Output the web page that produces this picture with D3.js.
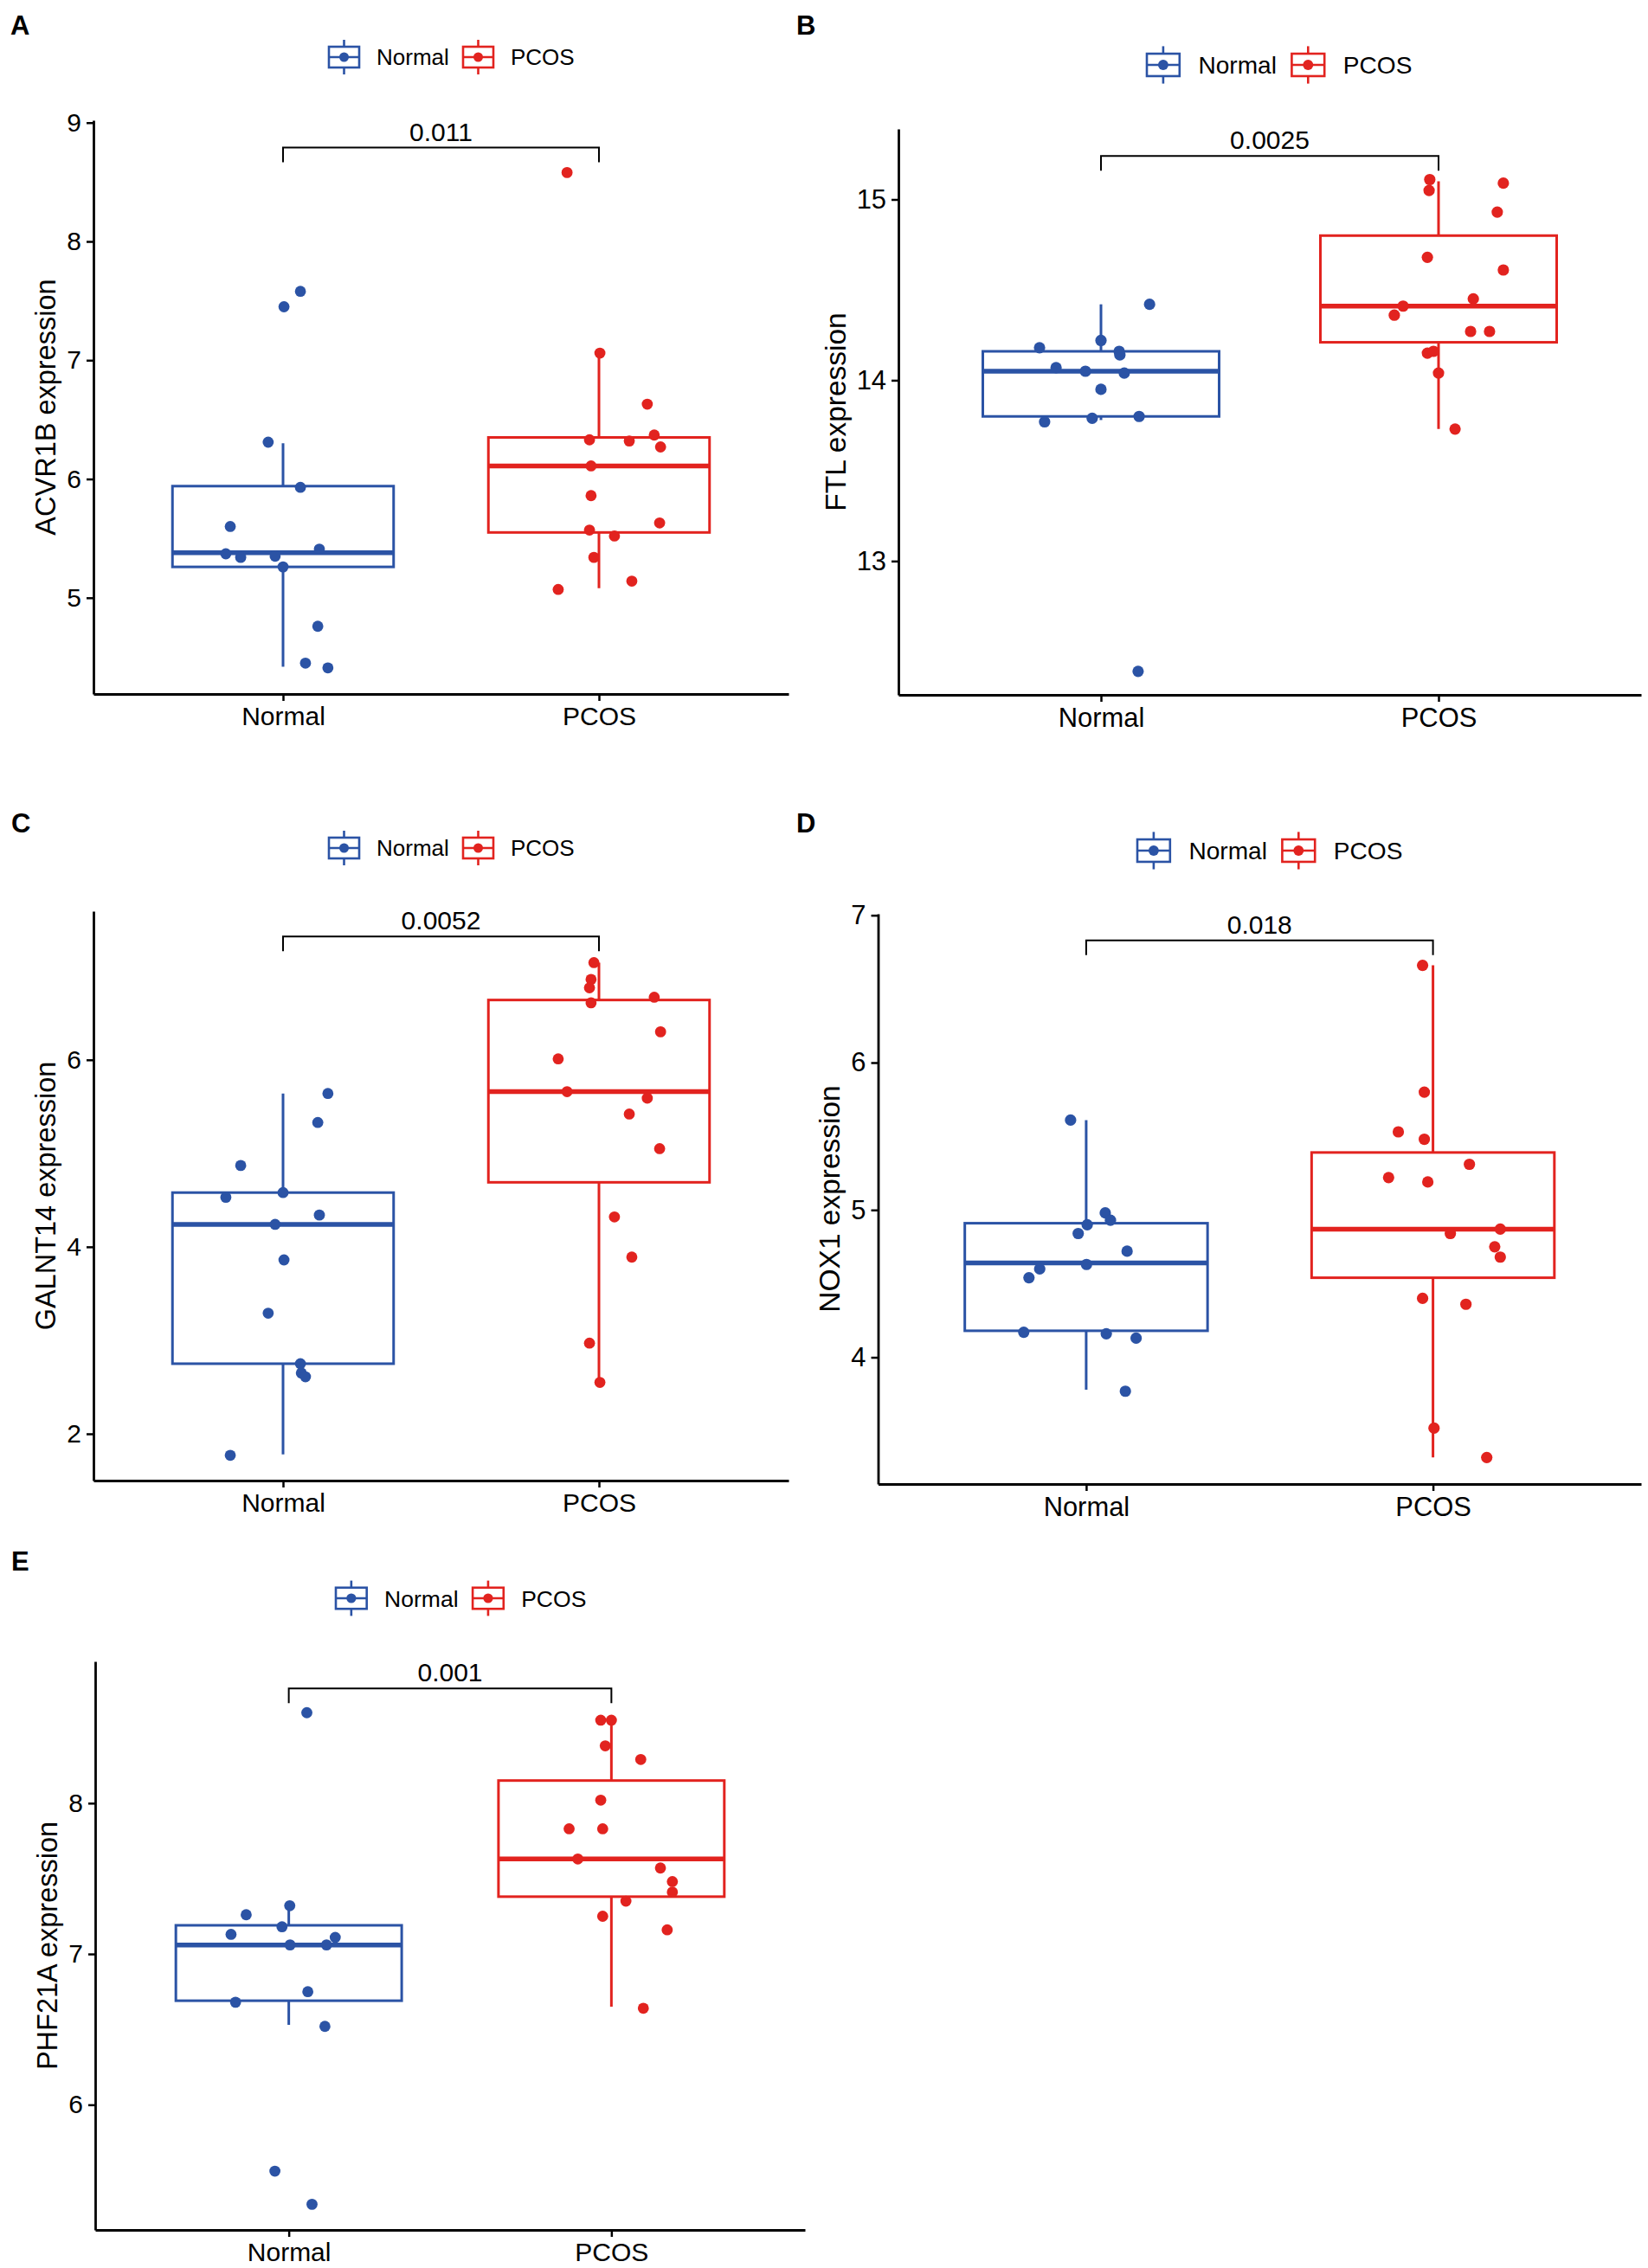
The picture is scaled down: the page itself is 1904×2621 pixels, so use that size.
<!DOCTYPE html>
<html>
<head>
<meta charset="utf-8">
<script src="https://cdn.jsdelivr.net/npm/d3@7"></script>
<style>
  body { margin: 0; background: #fff; }
  svg { display: block; }
  text { font-family: "Liberation Sans", Arial, Helvetica, sans-serif; fill: #000; }
</style>
</head>
<body>
<div id="chart"></div>
<script>
// groups, genes, p-values
var groups = ['Normal', 'PCOS'];
var genes = ['ACVR1B', 'FTL', 'GALNT14', 'NOX1', 'PHF21A'];
var pValues = ['0.011', '0.0025', '0.0052', '0.018', '0.001'];
var yTicks = [[5, 6, 7, 8, 9], [13, 14, 15], [2, 4, 6], [4, 5, 6, 7], [6, 7, 8]];
var bracketLevel = [8.79, 15.24, 7.32, 6.83, 8.76];

// jittered points: [x offset in group units, expression]
var acvr1bNormal = [[0.055, 7.58], [0.003, 7.45], [-0.047, 6.31], [0.055, 5.93], [-0.167, 5.60], [-0.181, 5.37], [-0.134, 5.34], [-0.025, 5.35], [0.115, 5.41], [0.0, 5.26], [0.110, 4.76], [0.071, 4.45], [0.142, 4.41]];
var acvr1bPcos = [[-0.101, 8.58], [0.003, 7.06], [0.153, 6.63], [-0.030, 6.33], [0.096, 6.32], [0.175, 6.37], [0.195, 6.27], [-0.025, 6.11], [-0.025, 5.86], [0.192, 5.63], [-0.030, 5.57], [0.049, 5.52], [-0.016, 5.34], [0.104, 5.14], [-0.129, 5.07]];
var ftlNormal = [[0.144, 14.42], [0.0, 14.22], [-0.182, 14.18], [0.054, 14.16], [0.056, 14.14], [-0.133, 14.07], [-0.046, 14.05], [0.069, 14.04], [0.0, 13.95], [-0.167, 13.77], [-0.026, 13.79], [0.113, 13.80], [0.110, 12.39]];
var ftlPcos = [[-0.026, 15.11], [-0.028, 15.05], [0.192, 15.09], [0.174, 14.93], [-0.033, 14.68], [0.192, 14.61], [0.103, 14.45], [-0.105, 14.41], [-0.131, 14.36], [0.095, 14.27], [0.151, 14.27], [-0.033, 14.15], [-0.015, 14.16], [0.0, 14.04], [0.049, 13.73]];
var galnt14Normal = [[0.142, 5.64], [0.110, 5.33], [-0.134, 4.87], [-0.181, 4.53], [0.0, 4.58], [-0.025, 4.24], [0.115, 4.34], [0.003, 3.86], [-0.047, 3.29], [0.055, 2.75], [0.058, 2.65], [0.071, 2.61], [-0.167, 1.77]];
var galnt14Pcos = [[-0.016, 7.04], [-0.025, 6.86], [-0.030, 6.77], [-0.025, 6.61], [0.175, 6.67], [0.195, 6.30], [-0.129, 6.01], [-0.101, 5.66], [0.153, 5.59], [0.096, 5.42], [0.192, 5.05], [0.049, 4.32], [0.104, 3.89], [-0.030, 2.97], [0.003, 2.55]];
var nox1Normal = [[-0.045, 5.61], [0.055, 4.98], [0.070, 4.93], [0.003, 4.90], [-0.023, 4.84], [0.118, 4.72], [0.001, 4.63], [-0.134, 4.60], [-0.165, 4.54], [-0.180, 4.17], [0.058, 4.16], [0.144, 4.13], [0.113, 3.77]];
var nox1Pcos = [[-0.030, 6.66], [-0.025, 5.80], [-0.100, 5.53], [-0.025, 5.48], [0.105, 5.31], [-0.128, 5.22], [-0.015, 5.19], [0.194, 4.87], [0.050, 4.84], [0.178, 4.75], [0.194, 4.68], [-0.030, 4.40], [0.095, 4.36], [0.003, 3.52], [0.155, 3.32]];
var phf21aNormal = [[0.056, 8.60], [0.003, 7.32], [-0.132, 7.26], [-0.021, 7.18], [-0.179, 7.13], [0.144, 7.11], [0.004, 7.06], [0.117, 7.06], [0.059, 6.75], [-0.165, 6.68], [0.112, 6.52], [-0.043, 5.56], [0.072, 5.34]];
var phf21aPcos = [[-0.033, 8.55], [0.0, 8.55], [-0.019, 8.38], [0.091, 8.29], [-0.033, 8.02], [-0.131, 7.83], [-0.027, 7.83], [-0.104, 7.63], [0.152, 7.57], [0.189, 7.48], [0.189, 7.41], [0.045, 7.35], [-0.027, 7.25], [0.173, 7.16], [0.099, 6.64]];

// box stats: [lower whisker, q1, median, q3, upper whisker] for Normal, PCOS
var acvr1bBoxes = [[4.42, 5.26, 5.38, 5.94, 6.30], [5.08, 5.55, 6.11, 6.35, 7.06]];
var ftlBoxes = [[13.78, 13.80, 14.05, 14.16, 14.42], [13.73, 14.21, 14.41, 14.80, 15.10]];
var galnt14Boxes = [[1.78, 2.75, 4.24, 4.58, 5.64], [2.55, 4.69, 5.66, 6.64, 7.04]];
var nox1Boxes = [[3.78, 4.18, 4.64, 4.91, 5.61], [3.32, 4.54, 4.87, 5.39, 6.66]];
var phf21aBoxes = [[6.53, 6.69, 7.06, 7.19, 7.32], [6.65, 7.38, 7.63, 8.15, 8.55]];

var points = [[acvr1bNormal, acvr1bPcos], [ftlNormal, ftlPcos], [galnt14Normal, galnt14Pcos], [nox1Normal, nox1Pcos], [phf21aNormal, phf21aPcos]];
var boxes = [acvr1bBoxes, ftlBoxes, galnt14Boxes, nox1Boxes, phf21aBoxes];

var colors = ['#2b53a5', '#e2231f'];

// panel layout (pixels); s = text scale, ls = legend scale
var panels = [
  { letter: 'A', lx: 12, ly: 40, left: 108, right: 911, top: 139, bottom: 802, yDomain: [4.19, 9.02], legX: 380, legY: 66, s: 1, ls: 1 },
  { letter: 'B', lx: 920, ly: 40, left: 1038, right: 1896, top: 149, bottom: 803, yDomain: [12.26, 15.39], legX: 1325, legY: 75, s: 1.03, ls: 1.08 },
  { letter: 'C', lx: 13, ly: 962, left: 108, right: 911, top: 1053, bottom: 1711, yDomain: [1.50, 7.59], legX: 380, legY: 980, s: 1, ls: 1 },
  { letter: 'D', lx: 920, ly: 962, left: 1014.5, right: 1896, top: 1056, bottom: 1715, yDomain: [3.14, 7.01], legX: 1314, legY: 983, s: 1.03, ls: 1.08 },
  { letter: 'E', lx: 13, ly: 1815, left: 110, right: 930, top: 1920, bottom: 2577, yDomain: [5.17, 8.94], legX: 388, legY: 1847, s: 1, ls: 1.02 }
];

var W = 1904, H = 2621;
var svg = d3.select('#chart').append('svg').attr('width', W).attr('height', H);
svg.append('rect').attr('width', W).attr('height', H).attr('fill', '#fff');

var drawPanel = function (p, i) {
  var s = p.s, ls = p.ls;
  var g = svg.append('g').classed('panel', true);
  var x = d3.scaleLinear().domain([0.4, 2.6]).range([p.left, p.right]);
  var y = d3.scaleLinear().domain(p.yDomain).range([p.bottom, p.top]);

  groups.forEach(function (grp, k) {
    var c = k + 1, col = colors[k], b = boxes[i][k];
    var bg = g.append('g').classed('box', true);
    bg.append('line').attr('x1', x(c)).attr('x2', x(c)).attr('y1', y(b[0])).attr('y2', y(b[4]))
      .attr('stroke', col).attr('stroke-width', 3);
    bg.append('rect').attr('x', x(c - 0.35)).attr('width', x(c + 0.35) - x(c - 0.35))
      .attr('y', y(b[3])).attr('height', y(b[1]) - y(b[3]))
      .attr('fill', '#fff').attr('stroke', col).attr('stroke-width', 3);
    bg.append('line').attr('x1', x(c - 0.35)).attr('x2', x(c + 0.35)).attr('y1', y(b[2])).attr('y2', y(b[2]))
      .attr('stroke', col).attr('stroke-width', 5.5);
    bg.selectAll('circle').data(points[i][k]).enter().append('circle')
      .attr('cx', function (d) { return x(c + d[0]); })
      .attr('cy', function (d) { return y(d[1]); })
      .attr('r', 6.4 * s).attr('fill', col);
  });

  // axes
  var yAxis = d3.axisLeft(y).tickValues(yTicks[i]).tickFormat(d3.format('d'))
    .tickSize(8).tickSizeOuter(0).tickPadding(6);
  var yg = g.append('g').attr('transform', 'translate(' + p.left + ',0)').call(yAxis);
  var xAxis = d3.axisBottom(x).tickValues([1, 2]).tickFormat(function (d) { return groups[d - 1]; })
    .tickSize(8).tickSizeOuter(0).tickPadding(7);
  var xg = g.append('g').attr('transform', 'translate(0,' + p.bottom + ')').call(xAxis);
  [yg, xg].forEach(function (ax) {
    ax.attr('font-family', null).attr('font-size', null);
    ax.select('.domain').attr('stroke', '#000').attr('stroke-width', 2.8);
    ax.selectAll('.tick line').attr('stroke', '#000').attr('stroke-width', 2.5);
    ax.selectAll('.tick text').style('font-size', (30 * s) + 'px').attr('fill', '#000');
  });

  var tb = yg.node().getBBox();
  var ys = 32.5 * s;
  g.append('text')
    .attr('transform', 'translate(' + (p.left + tb.x - 13 - ys * 0.36) + ',' + ((p.top + p.bottom) / 2) + ') rotate(-90)')
    .attr('text-anchor', 'middle').attr('dy', '0.36em')
    .style('font-size', ys + 'px')
    .text(genes[i] + ' expression');

  // comparison bracket
  var by = y(bracketLevel[i]);
  g.append('path')
    .attr('d', 'M' + x(1) + ',' + (by + 17) + 'V' + by + 'H' + x(2) + 'V' + (by + 17))
    .attr('fill', 'none').attr('stroke', '#000').attr('stroke-width', 2);
  g.append('text').attr('x', x(1.5)).attr('y', by - 8).attr('text-anchor', 'middle')
    .style('font-size', '30px').text(pValues[i]);

  // legend
  var lg = g.append('g').attr('transform', 'translate(' + p.legX + ',' + p.legY + ')');
  var offs = [[0, 55], [155, 210]];
  groups.forEach(function (grp, k) {
    var kx = offs[k][0] * ls, col = colors[k];
    var kg = lg.append('g').attr('transform', 'translate(' + kx + ',0)');
    kg.append('line').attr('x1', 17.5 * ls).attr('x2', 17.5 * ls).attr('y1', -20 * ls).attr('y2', 20 * ls)
      .attr('stroke', col).attr('stroke-width', 2.6);
    kg.append('rect').attr('x', 0).attr('y', -12 * ls).attr('width', 35 * ls).attr('height', 24 * ls)
      .attr('fill', '#fff').attr('stroke', col).attr('stroke-width', 2.6);
    kg.append('line').attr('x1', 0).attr('x2', 35 * ls).attr('y1', 0).attr('y2', 0)
      .attr('stroke', col).attr('stroke-width', 2.6);
    kg.append('circle').attr('cx', 17.5 * ls).attr('cy', 0).attr('r', 5.5 * ls).attr('fill', col);
    lg.append('text').attr('x', offs[k][1] * ls).attr('y', 0).attr('dy', '0.36em')
      .style('font-size', (26 * ls) + 'px').text(grp);
  });

  // panel letter
  svg.append('text').attr('x', p.lx).attr('y', p.ly)
    .style('font-size', '31px').style('font-weight', 'bold').text(p.letter);
};

panels.forEach(drawPanel);
</script>
</body>
</html>
